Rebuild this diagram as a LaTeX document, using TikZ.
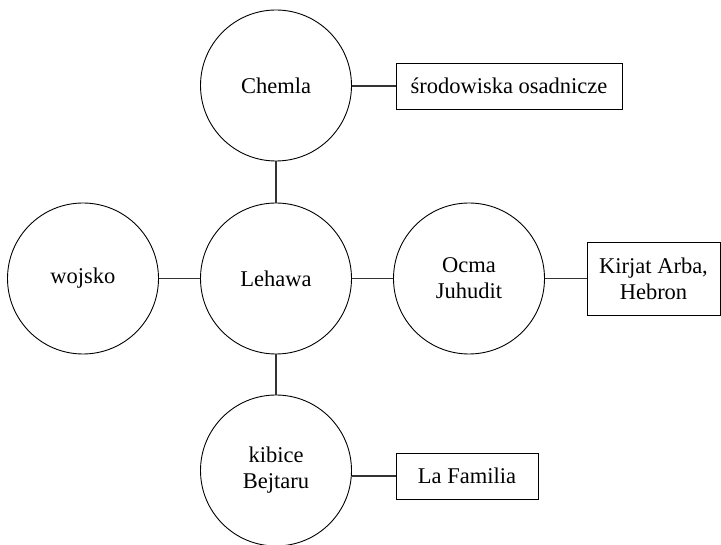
\documentclass[tikz,border=0pt]{standalone}
\usepackage{fontspec}
\setmainfont{Liberation Serif}
\begin{document}
\begin{tikzpicture}[x=1pt,y=-1pt,
  circ/.style={circle,draw=black,line width=0.9pt,fill=white,minimum size=151pt,inner sep=0pt,align=center,font=\fontsize{22.5}{26}\selectfont},
  lbox/.style={rectangle,draw=black,line width=0.9pt,fill=white,inner sep=0pt,align=center,font=\fontsize{22.5}{26}\selectfont},
  conn/.style={draw=black!80,line width=1.1pt}]
\useasboundingbox (0,0) rectangle (721,545);
\node[circ] (chemla) at (276,85.5) {Chemla};
\node[circ] (lehawa) at (276,278.5) {Lehawa};
\node[circ] (wojsko) at (83,278.5) {wojsko};
\node[circ] (ocma) at (469,278.5) {Ocma\\Juhudit};
\node[circ] (kibice) at (276,470.5) {kibice\\Bejtaru};
\node[lbox,minimum width=226pt,minimum height=46pt] (sro) at (509,86) {środowiska osadnicze};
\node[lbox,minimum width=133pt,minimum height=73pt] (kirjat) at (653.5,278.5) {Kirjat Arba,\\Hebron};
\node[lbox,minimum width=142pt,minimum height=46pt] (fam) at (467,476) {La Familia};
\draw[conn] (chemla.south) -- (lehawa.north);
\draw[conn] (lehawa.south) -- (kibice.north);
\draw[conn] (wojsko.east) -- (lehawa.west);
\draw[conn] (lehawa.east) -- (ocma.west);
\draw[conn] (ocma.east) -- (kirjat.west);
\draw[conn] (sro.west) -- (sro.west -| chemla.east);
\draw[conn] (fam.west) -- (fam.west -| kibice.east);
\end{tikzpicture}
\end{document}
